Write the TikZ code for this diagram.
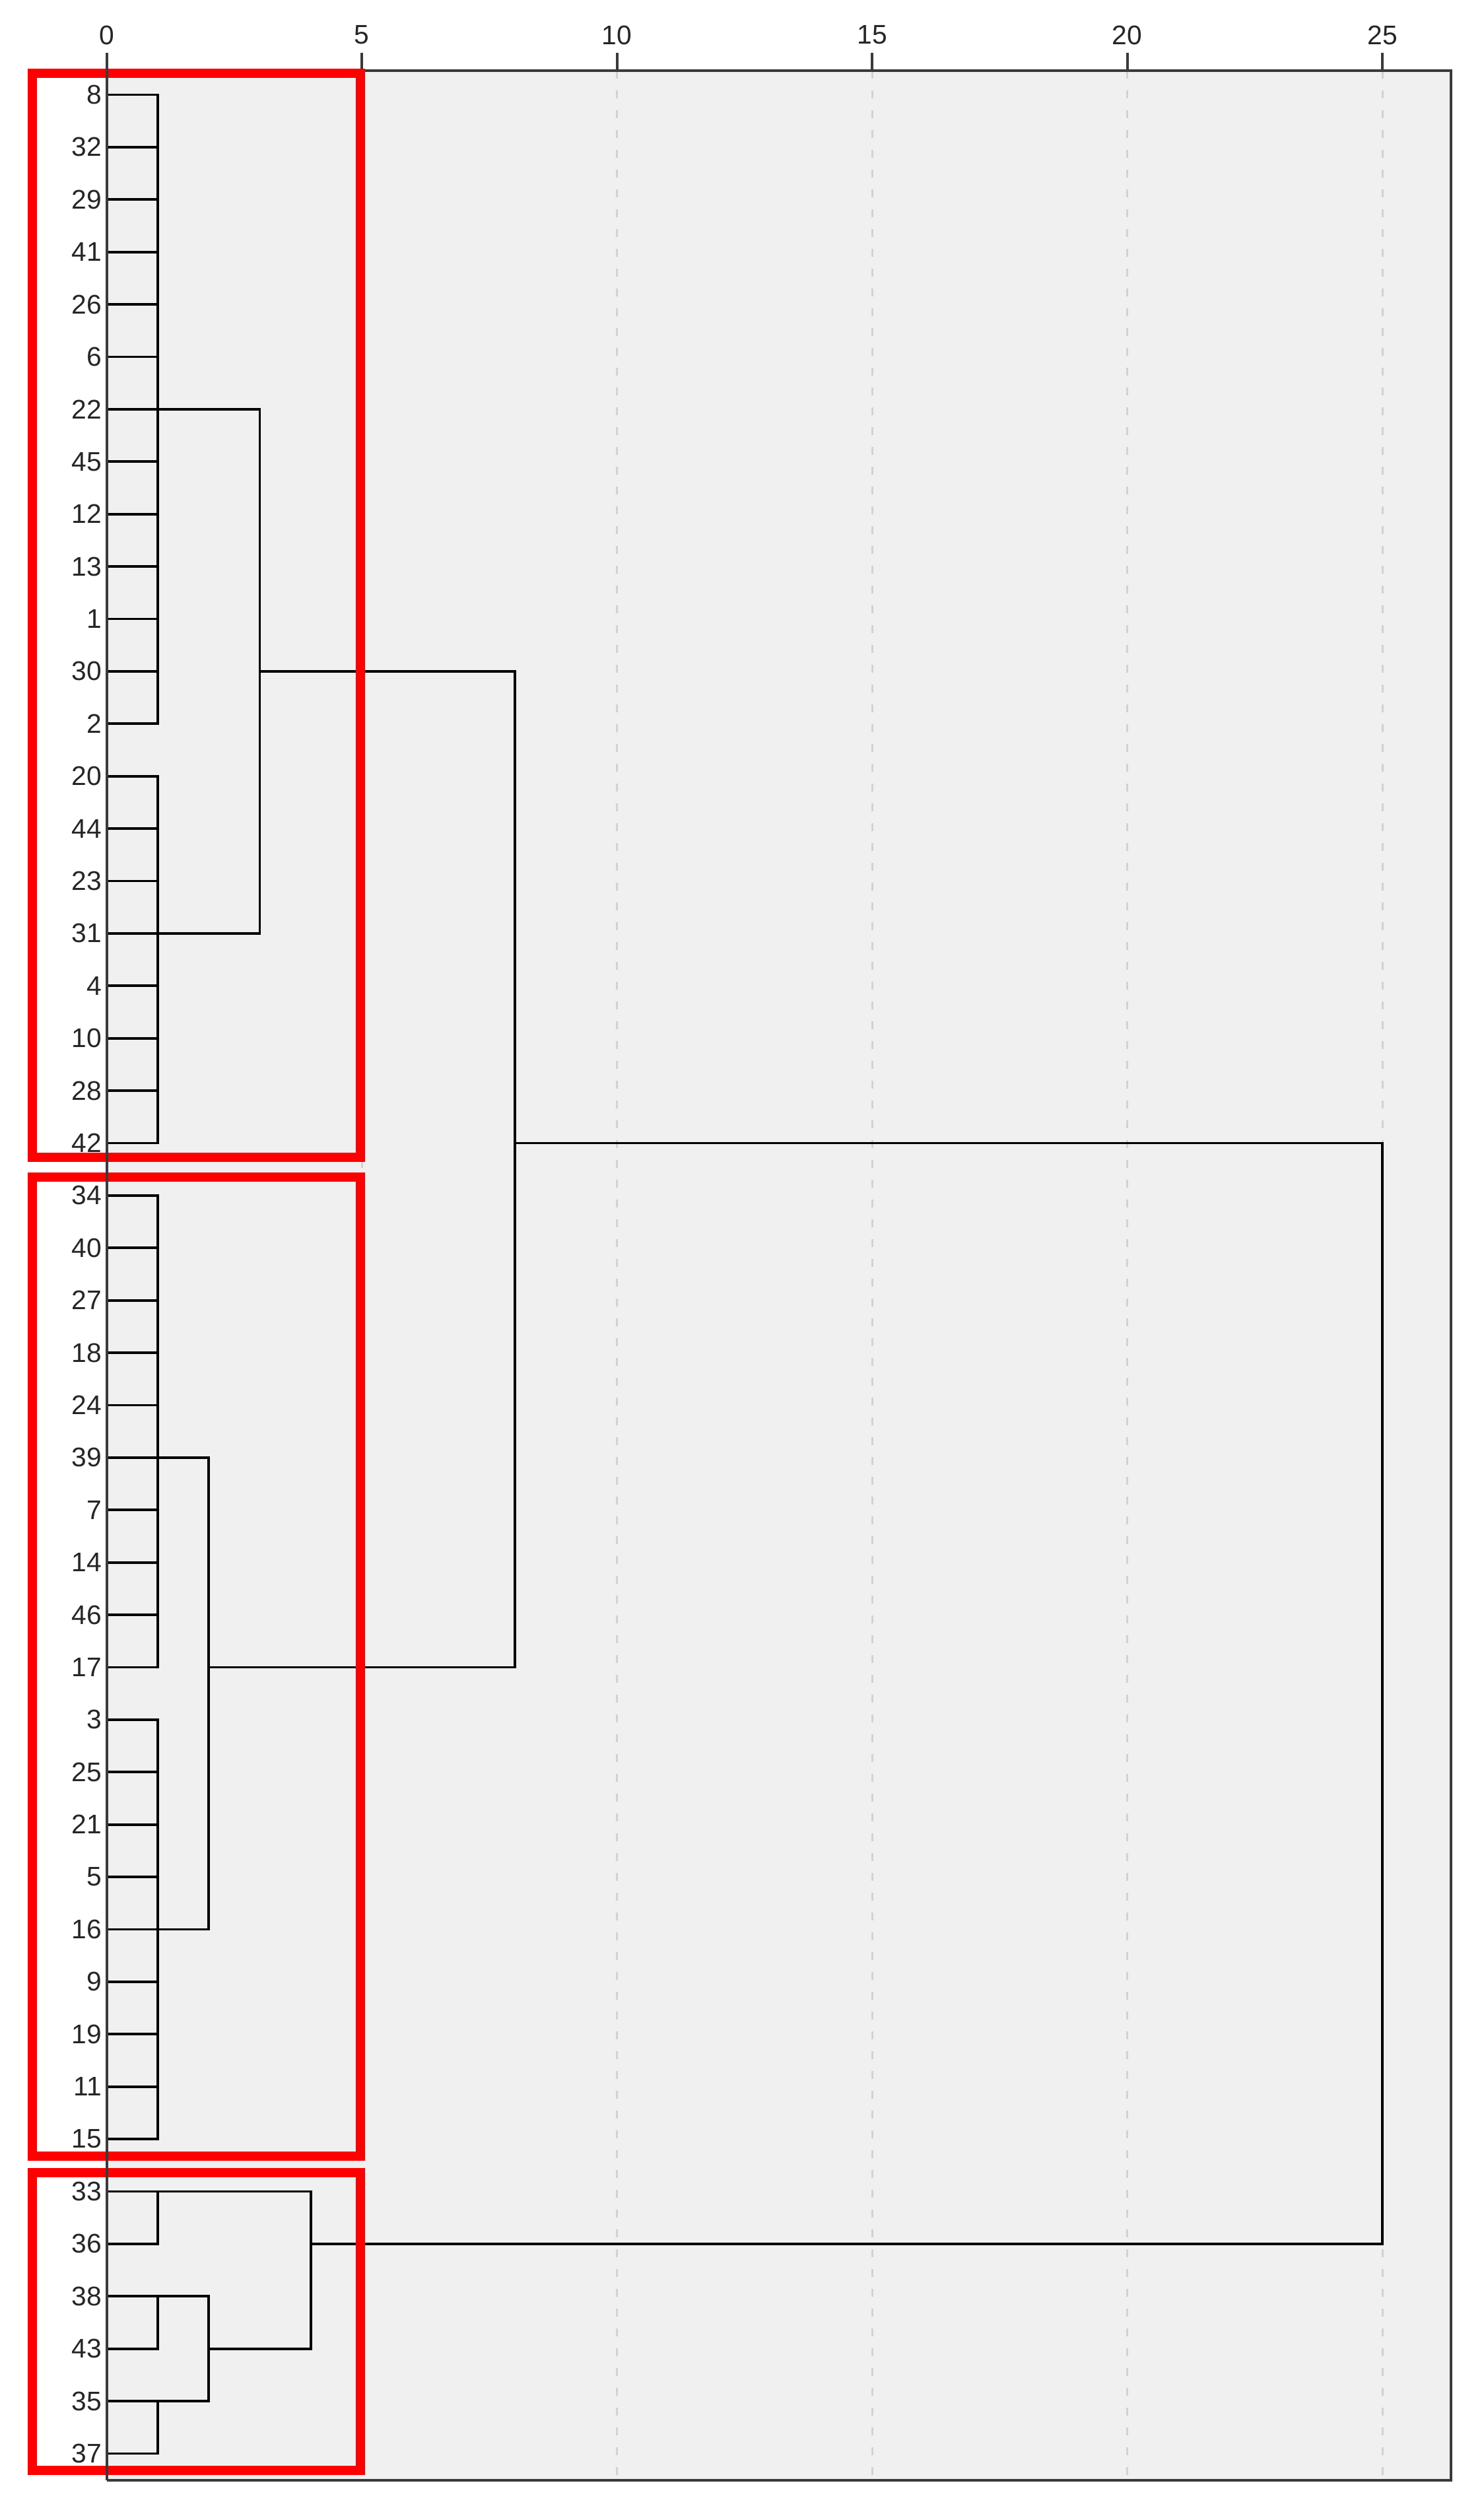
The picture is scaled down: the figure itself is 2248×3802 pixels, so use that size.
\documentclass[tikz,border=0pt]{standalone}
\usepackage{fontspec}
\setmainfont{Liberation Sans}
\newcommand\DX[1]{161.5+77.3*(#1)}
\newcommand\DY[1]{143.5+79.4*(#1)}
\definecolor{plotbg}{HTML}{F0F0F0}
\definecolor{gridc}{HTML}{D2D2D2}
\definecolor{framec}{HTML}{3A3A3A}
\definecolor{labc}{HTML}{262626}
\begin{document}
\begin{tikzpicture}[x=0.25pt,y=-0.25pt,
  dendro/.style={draw=black,line width=0.95pt,line cap=rect},
  gridline/.style={draw=gridc,line width=0.75pt,dash pattern=on 3pt off 4.5pt},
  frame/.style={draw=framec,line width=1pt},
  redbox/.style={draw=red,line width=3.5pt},
  leaflab/.style={anchor=east,inner sep=0pt,font=\fontsize{10.2}{12}\selectfont,text=labc},
  ticklab/.style={anchor=center,inner sep=0pt,font=\fontsize{10.2}{12}\selectfont,text=labc}]
\useasboundingbox (0,0) rectangle (2248,3802);
\fill[white] (0,0) rectangle (2248,3802);
\fill[plotbg] ({\DX{0}},107) rectangle (2198,3757);
\foreach \t in {5,10,15,20,25} \draw[gridline] ({\DX{\t}},107) -- ({\DX{\t}},3757);
\foreach \t in {0,5,10,15,20,25} {
  \draw[frame] ({\DX{\t}},80) -- ({\DX{\t}},107);
  \node[ticklab] (tick\t) at ({\DX{\t}},53) {\t};
}
% leaves
\foreach \lab [count=\i from 0] in {8,32,29,41,26,6,22,45,12,13,1,30,2,20,44,23,31,4,10,28,42,34,40,27,18,24,39,7,14,46,17,3,25,21,5,16,9,19,11,15,33,36,38,43,35,37} {
  \coordinate (l\i) at ({\DX{0}},{\DY{\i}});
  \coordinate (e\i) at ({\DX{1}},{\DY{\i}});
  \node[leaflab] (n\i) at ({\DX{0}-7},{\DY{\i}}) {\lab};
  \draw[dendro] (l\i) -- (e\i);
}
% first-level verticals
\draw[dendro] (e0) -- (e12);
\draw[dendro] (e13) -- (e20);
\draw[dendro] (e21) -- (e30);
\draw[dendro] (e31) -- (e39);
\draw[dendro] (e40) -- (e41);
\draw[dendro] (e42) -- (e43);
\draw[dendro] (e44) -- (e45);
% merges
\coordinate (a) at ({\DX{3}},{\DY{11}});
\coordinate (b) at ({\DX{2}},{\DY{30}});
\coordinate (ab) at ({\DX{8}},{\DY{20}});
\coordinate (c23) at ({\DX{2}},{\DY{43}});
\coordinate (c) at ({\DX{4}},{\DY{41}});
\coordinate (root) at ({\DX{25}},{\DY{30}});
\draw[dendro] (e6) -- (e6 -| a) -- (e16 -| a) -- (e16);
\draw[dendro] (e26) -- (e26 -| b) -- (e35 -| b) -- (e35);
\draw[dendro] (a) -- (a -| ab) -- (b -| ab) -- (b);
\draw[dendro] (e42) -- (e42 -| c23) -- (e44 -| c23) -- (e44);
\draw[dendro] (e40) -- (e40 -| c) -- (c23 -| c) -- (c23);
\draw[dendro] (ab) -- (ab -| root) -- (c -| root) -- (c);
% frame
\draw[frame] ({\DX{0}},107) -- (2198,107) -- (2198,3757) -- ({\DX{0}},3757);
% red boxes
\draw[redbox] (49,110.6) rectangle (546,1753);
\draw[redbox] (49,1783) rectangle (546,3266);
\draw[redbox] (49,3291) rectangle (546,3742);
% left axis line
\draw[frame] ({\DX{0}},80) -- ({\DX{0}},3757);
\end{tikzpicture}
\end{document}
